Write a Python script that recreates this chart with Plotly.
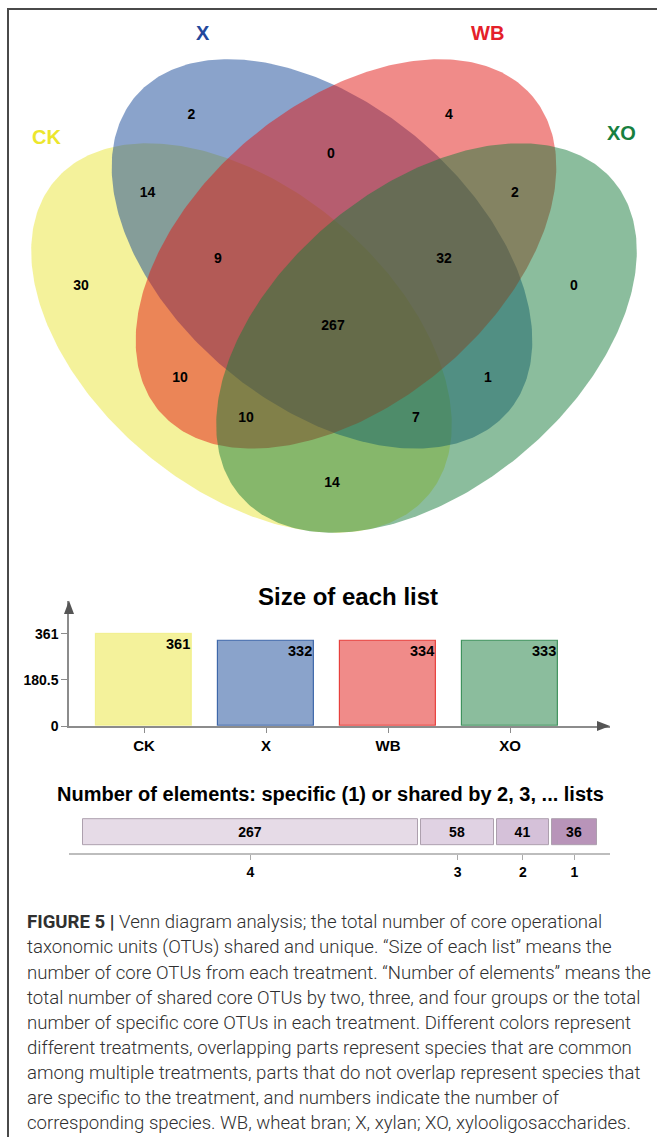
import numpy as np
import plotly.graph_objects as go

W, H = 657, 1145
KY = 1.0085  # vertical stretch of the layout grid

# ---------------- data ----------------
set_names = ["CK", "X", "WB", "XO"]
set_label_colors = ["#ece62c", "#24489c", "#e4202a", "#17803f"]
set_fill_rgb = [(233, 229, 55), (21, 71, 151), (225, 23, 19), (23, 123, 59)]

# membership of every Venn region and the number of OTUs in it
region_members = [
    ("CK",), ("X",), ("WB",), ("XO",),
    ("CK", "X"), ("X", "WB"), ("WB", "XO"), ("CK", "WB"), ("X", "XO"), ("CK", "XO"),
    ("CK", "X", "WB"), ("X", "WB", "XO"), ("CK", "WB", "XO"), ("CK", "X", "XO"),
    ("CK", "X", "WB", "XO"),
]
region_counts = [30, 2, 4, 0, 14, 0, 2, 10, 1, 14, 9, 32, 10, 7, 267]

# size of each list and number of elements shared by k lists
list_sizes = [sum(c for m, c in zip(region_members, region_counts) if s in m) for s in set_names]
shared_degree = [4, 3, 2, 1]
shared_counts = [sum(c for m, c in zip(region_members, region_counts) if len(m) == k) for k in shared_degree]

# ---------------- layout constants (pixels) ----------------
# label anchor of each region inside the diagram
region_label_xy = [
    (81, 286), (191.5, 115), (449, 115), (574, 286),
    (147.5, 193), (331, 154), (515, 193), (180, 378), (488, 378), (332, 483),
    (218, 259), (444, 259), (246, 418), (416, 418),
    (333, 326),
]
set_label_xy = [(46, 137), (203, 33), (487, 33), (621, 133)]
# ellipse centre and tilt (degrees, image coords) per set
ellipse_geom = [(241.5, 337.5, 40), (322, 253.5, 40), (346, 253.5, -40), (426.5, 337.5, -40)]
ELL_A, ELL_B = 244, 150

BOLD = "Liberation Sans"


def px_x(p):
    return p / W


def px_y(p):
    return 1 - p * KY / H


fig = go.Figure()

# ---------------- Venn diagram ----------------
t = np.linspace(0, 2 * np.pi, 361)
for name, rgb, (cx, cy, ang) in zip(set_names, set_fill_rgb, ellipse_geom):
    th = np.deg2rad(ang)
    u, v = ELL_A * np.cos(t), ELL_B * np.sin(t)
    xs = cx + u * np.cos(th) - v * np.sin(th)
    ys = cy + u * np.sin(th) + v * np.cos(th)
    fig.add_trace(go.Scatter(
        x=xs, y=ys, mode="lines", fill="toself",
        fillcolor="rgba(%d,%d,%d,0.5)" % rgb, line=dict(width=0),
        hoverinfo="skip", showlegend=False, xaxis="x", yaxis="y", name=name,
    ))

fig.add_trace(go.Scatter(
    x=[p[0] for p in region_label_xy], y=[p[1] for p in region_label_xy],
    mode="text", text=[str(c) for c in region_counts],
    textfont=dict(family=BOLD, size=14, color="black", weight="bold"),
    textposition="middle center", showlegend=False, hoverinfo="skip",
    xaxis="x", yaxis="y",
))

for name, col, (lx, ly) in zip(set_names, set_label_colors, set_label_xy):
    fig.add_annotation(x=lx, y=ly, xref="x", yref="y", text=name, showarrow=False,
                       font=dict(family=BOLD, size=20, color=col, weight="bold"),
                       xanchor="center", yanchor="middle")

# ---------------- Size of each list ----------------
bar_fill = ["rgba(%d,%d,%d,0.5)" % c for c in set_fill_rgb]
bar_edge = ["rgba(%d,%d,%d,0.35)" % set_fill_rgb[0]] + ["rgba(%d,%d,%d,0.75)" % c for c in set_fill_rgb[1:]]
BAR_W = 0.79
cat_idx = list(range(len(set_names)))
fig.add_trace(go.Bar(
    x=cat_idx, y=list_sizes, width=BAR_W, marker=dict(color=bar_fill, line=dict(color=bar_edge, width=1.2)),
    xaxis="x2", yaxis="y2", showlegend=False, hoverinfo="skip",
))
for i, v in zip(cat_idx, list_sizes):
    fig.add_annotation(x=i + BAR_W / 2, y=v, xref="x2", yref="y2", text=str(v), showarrow=False,
                       xanchor="right", yanchor="top", yshift=0,
                       font=dict(family=BOLD, size=14.5, color="black", weight="bold"))

ymax = max(list_sizes)
# y axis: 0 at 725 px, max at 633 px, top of axis (arrow tip) at 600 px
y2_top = ymax * (725 - 600) / (725 - 633)
# x axis: category 0 at 144 px, spacing 122 px, axis from 69 to 610 px
x2_lo = -(144 - 69) / 122
x2_hi = (610 - 144) / 122

fig.add_annotation(x=px_x(348), y=px_y(596), xref="paper", yref="paper", text="Size of each list",
                   showarrow=False, xanchor="center", yanchor="middle",
                   font=dict(family=BOLD, size=24, color="black", weight="bold"))

# ---------------- Number of elements ----------------
seg_fill = ["#e6dbe7", "#e0d2e3", "#d5c1d9", "#b894b9"]
PX_PER_UNIT = 1.2575
GAP = 3 / PX_PER_UNIT
bases = []
acc = 0.0
for v in shared_counts:
    bases.append(acc)
    acc += v + GAP
fig.add_trace(go.Bar(
    x=shared_counts, y=[0] * len(shared_counts), base=bases, orientation="h", width=1.0,
    marker=dict(color=seg_fill, line=dict(color="#ada0ae", width=1)),
    text=[str(v) for v in shared_counts], textposition="inside", insidetextanchor="middle",
    textfont=dict(family=BOLD, size=14, color="black", weight="bold"), textangle=0,
    xaxis="x3", yaxis="y3", showlegend=False, hoverinfo="skip",
))
seg_centers = [b + v / 2 for b, v in zip(bases, shared_counts)]
x3_lo = -(82.5 - 69) / PX_PER_UNIT
x3_hi = (610 - 82.5) / PX_PER_UNIT

fig.add_annotation(x=px_x(330), y=px_y(793), xref="paper", yref="paper",
                   text="Number of elements: specific (1) or shared by 2, 3, ... lists",
                   showarrow=False, xanchor="center", yanchor="middle",
                   font=dict(family=BOLD, size=20, color="black", weight="bold"))

# ---------------- caption ----------------
caption_lines = [
    "<b>FIGURE 5 |</b> Venn diagram analysis; the total number of core operational",
    "taxonomic units (OTUs) shared and unique. \u201cSize of each list\u201d means the",
    "number of core OTUs from each treatment. \u201cNumber of elements\u201d means the",
    "total number of shared core OTUs by two, three, and four groups or the total",
    "number of specific core OTUs in each treatment. Different colors represent",
    "different treatments, overlapping parts represent species that are common",
    "among multiple treatments, parts that do not overlap represent species that",
    "are specific to the treatment, and numbers indicate the number of",
    "corresponding species. WB, wheat bran; X, xylan; XO, xylooligosaccharides.",
]
for k, line in enumerate(caption_lines):
    fig.add_annotation(x=px_x(25), y=px_y(921 + 25.1 * k), xref="paper", yref="paper", text=line,
                       showarrow=False, xanchor="left", yanchor="middle",
                       font=dict(family="Roboto", size=18.6, color="#303030", weight=300))

# ---------------- decorations: frame and axis arrows ----------------
shapes = [
    dict(type="line", xref="x", yref="y", x0=7, x1=W, y0=9, y1=9, line=dict(color="#4a4a4a", width=2)),
    dict(type="line", xref="x", yref="y", x0=8, x1=8, y0=8, y1=H, line=dict(color="#4a4a4a", width=2)),
    dict(type="path", xref="x", yref="y", path="M 69 600 L 64 613 L 74 613 Z",
         fillcolor="#555555", line=dict(width=0)),
    dict(type="path", xref="x", yref="y", path="M 610 725 L 597 720 L 597 730 Z",
         fillcolor="#555555", line=dict(width=0)),
]

tickfont = dict(family=BOLD, size=14, color="black", weight="bold")
fig.update_layout(
    width=W, height=H, margin=dict(l=0, r=0, t=0, b=0),
    paper_bgcolor="white", plot_bgcolor="white",
    shapes=shapes,
    xaxis=dict(domain=[0, 1], range=[0, W], visible=False, fixedrange=True),
    yaxis=dict(domain=[0, 1], range=[H / KY, 0], visible=False, fixedrange=True),
    xaxis2=dict(domain=[px_x(69), px_x(610)], range=[x2_lo, x2_hi], anchor="y2",
                showline=True, linecolor="#8c8c8c", linewidth=1.5, showgrid=False, zeroline=False,
                tickvals=cat_idx, ticktext=set_names, ticks="outside", ticklen=5, tickcolor="#8c8c8c",
                tickwidth=1.2, tickfont=dict(family=BOLD, size=15, color="black", weight="bold")),
    yaxis2=dict(domain=[px_y(725), px_y(600)], range=[0, y2_top], anchor="x2",
                showline=True, linecolor="#8c8c8c", linewidth=1.5, showgrid=False, zeroline=False,
                tickvals=[0, ymax / 2, ymax], ticktext=["0", f"{ymax / 2:g}", str(ymax)],
                ticks="outside", ticklen=6, tickcolor="#8c8c8c", tickwidth=1.2, tickfont=tickfont),
    xaxis3=dict(domain=[px_x(69), px_x(610)], range=[x3_lo, x3_hi], anchor="y3",
                showline=True, linecolor="#bdbdbd", linewidth=2, showgrid=False, zeroline=False,
                tickvals=seg_centers, ticktext=[str(k) for k in shared_degree], ticks="outside",
                ticklen=5, tickcolor="#aaaaaa", tickwidth=1, tickfont=tickfont),
    yaxis3=dict(domain=[px_y(852), px_y(812)], range=[-21 / 26, 19 / 26], anchor="x3",
                visible=False, showgrid=False, zeroline=False),
    bargap=0,
)

fig.write_html("out.html")
